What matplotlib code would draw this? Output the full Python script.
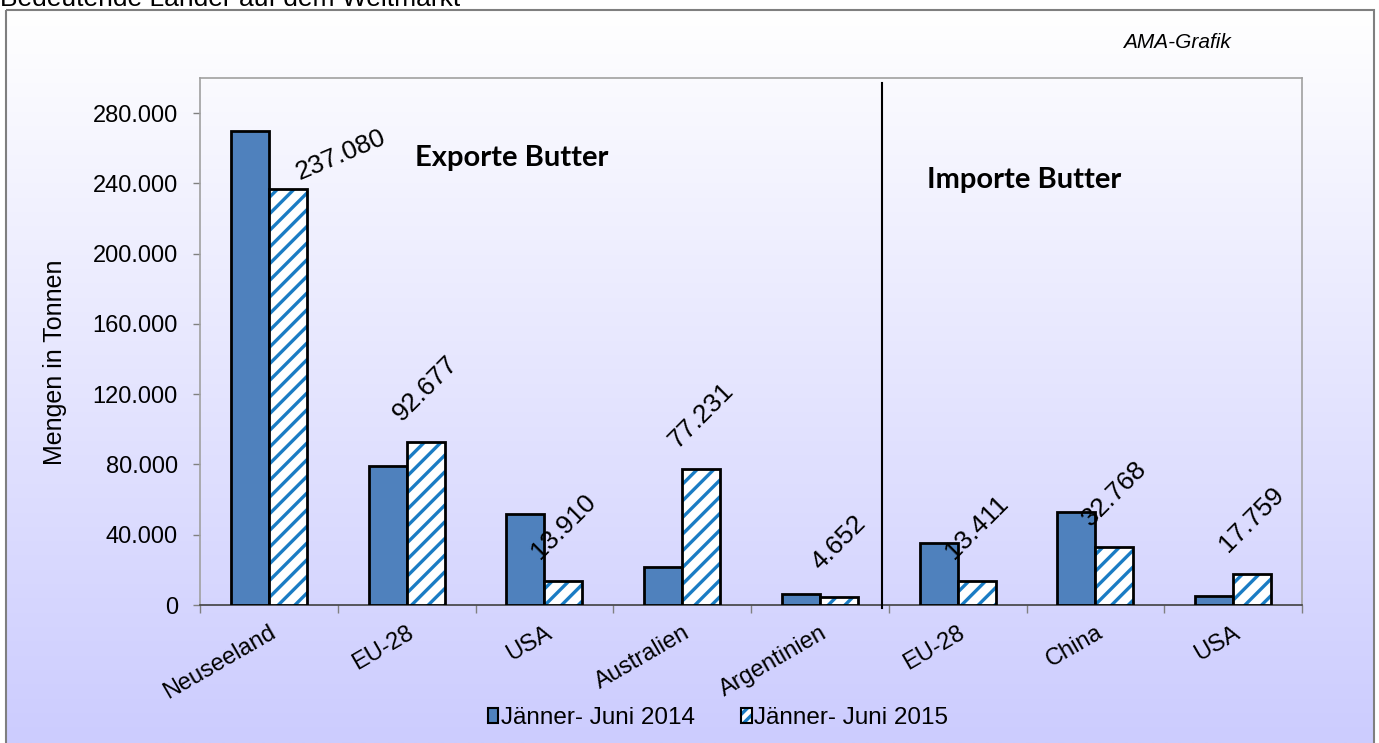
import numpy as np
import matplotlib

matplotlib.use("Agg")
import matplotlib.pyplot as plt
from matplotlib.patches import Rectangle, Patch
from matplotlib.legend_handler import HandlerTuple

plt.rcParams.update(
    {
        "font.family": ["Liberation Sans", "DejaVu Sans"],
        "font.size": 17,
        "hatch.linewidth": 2.4,
    }
)

# data (tonnes), Jänner-Juni
countries = ["Neuseeland", "EU-28", "USA", "Australien", "Argentinien", "EU-28", "China", "USA"]
jun_2014 = [270000, 79000, 51800, 21900, 6300, 35200, 53100, 5400]
jun_2015 = [237080, 92677, 13910, 77231, 4652, 13411, 32768, 17759]
series_names = ["Jänner- Juni 2014", "Jänner- Juni 2015"]
y_ticks = [0, 40000, 80000, 120000, 160000, 200000, 240000, 280000]

BLUE = "#4F81BD"
STRIPE = "#1A7CC4"
W, H = 1379, 743


def fmt(v):
    return f"{v:,.0f}".replace(",", ".")


fig = plt.figure(figsize=(W / 100, H / 100), dpi=100)

# gradient background inside the outer frame
bg = fig.add_axes([0, 0, 1, 1], zorder=-5)
bg.set_xlim(0, W)
bg.set_ylim(H, 0)
bg.axis("off")
grad = np.linspace(0, 1, 256)[:, None]
top_c = np.array([1.0, 1.0, 1.0])
bot_c = np.array([204, 204, 254]) / 255
img = top_c[None, None, :] * (1 - grad[..., None]) + bot_c[None, None, :] * grad[..., None]
img = np.repeat(img, 2, axis=1)
bg.imshow(img, extent=(6, 1374, H, 10), aspect="auto", interpolation="bilinear")
bg.add_patch(Rectangle((6, 10), 1368, H, fill=False, edgecolor="#7f7f7f", lw=1.5))
bg.text(0, 6, "Bedeutende Länder auf dem Weltmarkt", fontsize=19, ha="left", va="baseline")
bg.text(1177, 43, "AMA-Grafik", fontsize=15, style="italic", ha="center", va="center")

ax = fig.add_axes([200 / W, 1 - 605 / H, 1102 / W, 527 / H])
ax.patch.set_alpha(0)

x = np.arange(len(countries))
w = 0.275
ax.bar(x - w / 2, jun_2014, w, color=BLUE, edgecolor="black", linewidth=2, zorder=3)
ax.bar(x + w / 2, jun_2015, w, color="white", edgecolor=STRIPE, hatch="//", linewidth=0, zorder=3)
ax.bar(x + w / 2, jun_2015, w, fill=False, edgecolor="black", linewidth=2, zorder=4)

for i, v in enumerate(jun_2015):
    if i == 0:
        rot, off = 23, (38, 24)
    else:
        rot, off = 45, (0, 39)
    ax.annotate(fmt(v), (x[i] + w / 2, v), xytext=off, textcoords="offset points",
                rotation=rot, ha="center", va="center", fontsize=19, zorder=5)

# separator exports / imports
ax.plot([4.45, 4.45], [-1500, 297000], color="black", lw=1.5, zorder=5, clip_on=False)

ax.text(0.283, 0.848, "Exporte Butter", transform=ax.transAxes, fontsize=21,
        fontweight="bold", family="Lato", ha="center", va="center")
ax.text(0.748, 0.806, "Importe Butter", transform=ax.transAxes, fontsize=21,
        fontweight="bold", family="Lato", ha="center", va="center")

ax.set_xlim(-0.5, len(countries) - 0.5)
ax.set_ylim(0, 300000)
ax.set_yticks(y_ticks)
ax.set_yticklabels([fmt(t) for t in y_ticks])
ax.set_xticks(x)
ax.set_xticklabels(countries, rotation=30, ha="right", va="top", rotation_mode="anchor")
ax.set_xticks(np.arange(-0.5, len(countries)), minor=True)
ax.tick_params(axis="x", which="major", length=0, pad=12)
ax.tick_params(axis="x", which="minor", length=6, color="#808080", width=1)
ax.tick_params(axis="y", length=5, color="#808080", width=1, pad=11)
for side in ["left", "top", "right"]:
    ax.spines[side].set_color("#a0a0a0")
    ax.spines[side].set_linewidth(1.2)
ax.spines["bottom"].set_color("#404040")
ax.spines["bottom"].set_linewidth(1.2)

fig.text(55 / W, 1 - 362 / H, "Mengen in Tonnen", rotation=90, ha="center", va="center", fontsize=18)

h1 = Patch(facecolor=BLUE, edgecolor="black", linewidth=1.5)
h2a = Patch(facecolor="white", edgecolor=STRIPE, hatch="///", linewidth=0)
h2b = Patch(fill=False, edgecolor="black", linewidth=1.5)
fig.legend([h1, (h2a, h2b)], series_names, handler_map={tuple: HandlerTuple(ndivide=1)},
           loc="center", bbox_to_anchor=(718 / W, 1 - 718 / H), ncol=2, frameon=False,
           handlelength=0.45, handleheight=0.6, handletextpad=0.1, columnspacing=1.9,
           fontsize=17.5)

fig.savefig("out.png", dpi=100)
